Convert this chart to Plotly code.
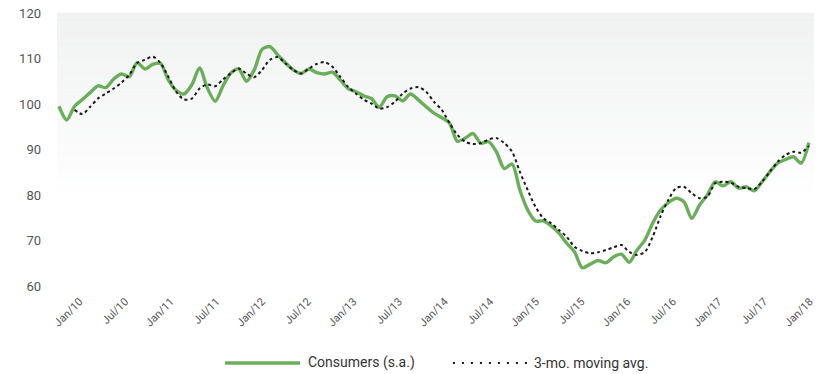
import plotly.graph_objects as go

months = ["Jan/10","Feb/10","Mar/10","Apr/10","May/10","Jun/10","Jul/10","Aug/10","Sep/10","Oct/10","Nov/10","Dec/10",
          "Jan/11","Feb/11","Mar/11","Apr/11","May/11","Jun/11","Jul/11","Aug/11","Sep/11","Oct/11","Nov/11","Dec/11",
          "Jan/12","Feb/12","Mar/12","Apr/12","May/12","Jun/12","Jul/12","Aug/12","Sep/12","Oct/12","Nov/12","Dec/12",
          "Jan/13","Feb/13","Mar/13","Apr/13","May/13","Jun/13","Jul/13","Aug/13","Sep/13","Oct/13","Nov/13","Dec/13",
          "Jan/14","Feb/14","Mar/14","Apr/14","May/14","Jun/14","Jul/14","Aug/14","Sep/14","Oct/14","Nov/14","Dec/14",
          "Jan/15","Feb/15","Mar/15","Apr/15","May/15","Jun/15","Jul/15","Aug/15","Sep/15","Oct/15","Nov/15","Dec/15",
          "Jan/16","Feb/16","Mar/16","Apr/16","May/16","Jun/16","Jul/16","Aug/16","Sep/16","Oct/16","Nov/16","Dec/16",
          "Jan/17","Feb/17","Mar/17","Apr/17","May/17","Jun/17","Jul/17","Aug/17","Sep/17","Oct/17","Nov/17","Dec/17",
          "Jan/18"]

consumers = [99.5, 96.5, 99.5, 101.0, 102.5, 104.0, 103.6, 105.5, 106.6, 106.0, 109.1, 107.7,
             108.7, 108.9, 105.3, 103.0, 102.2, 104.2, 107.9, 103.5, 100.6, 104.0, 106.8, 107.7,
             105.0, 107.5, 112.0, 112.6, 110.8, 109.0, 107.5, 106.7, 107.7, 106.9, 106.6, 107.0,
             105.3, 103.4, 102.7, 101.8, 101.2, 99.3, 101.6, 101.8, 100.7, 102.2, 100.9, 99.4,
             98.0, 97.0, 95.8, 91.8, 92.5, 93.5, 91.4, 91.7, 89.5, 85.8, 86.8, 81.1,
             76.7, 74.3, 74.3, 73.2, 71.6, 69.4, 67.5, 64.0, 64.8, 65.6, 65.1, 66.4,
             67.0, 65.2, 67.9, 70.1, 73.8, 76.7, 78.3, 79.3, 78.5, 74.9, 77.8, 80.0,
             82.9, 82.0, 82.9, 81.5, 81.8, 80.9, 82.9, 85.1, 87.0, 87.8, 88.4, 87.0,
             91.5]

moving_avg = [None, None, 98.7, 97.8, 99.4, 101.2, 102.3, 103.4, 104.7, 106.4, 109.0, 109.7,
              110.4, 109.0, 106.0, 102.7, 101.0, 101.2, 103.4, 104.3, 103.9, 105.4, 106.7, 107.8,
              106.7, 105.9, 107.5, 109.7, 110.3, 108.9, 107.5, 106.7, 107.8, 108.8, 109.2, 108.2,
              106.0, 103.8, 102.3, 101.0, 100.1, 99.0, 99.3, 100.5, 102.3, 103.4, 103.7, 102.7,
              100.5, 98.7, 95.8, 93.2, 91.7, 91.2, 91.4, 92.2, 92.5, 91.4, 89.5, 85.1,
              81.1, 77.4, 74.9, 73.8, 72.3, 70.8, 68.6, 67.7, 67.2, 67.4, 67.9, 68.5,
              69.0, 67.5, 66.8, 67.5, 70.8, 75.3, 78.9, 81.5, 81.8, 80.4, 79.3, 79.6,
              82.6, 82.9, 82.7, 81.8, 81.5, 81.3, 82.9, 85.1, 87.3, 88.8, 89.5, 89.3,
              90.8]

tick_labels = months[::6]
y_ticks = [60, 70, 80, 90, 100, 110, 120]

x = list(range(len(months)))
# label anchor positions along the axis (the source's labels drift slightly from the data grid)
tick_pos = [2.63 + 5.843 * k for k in range(len(tick_labels))]

GREEN = "#6aae5c"
DARK = "#1a1a1a"

fig = go.Figure()
fig.add_trace(go.Scatter(
    x=x, y=consumers, mode="lines", name="Consumers (s.a.)",
    line=dict(color=GREEN, width=3.4, shape="spline", smoothing=0.8),
    customdata=months, hovertemplate="%{customdata}: %{y}<extra></extra>",
))
fig.add_trace(go.Scatter(
    x=x, y=moving_avg, mode="lines", name="3-mo. moving avg.",
    line=dict(color=DARK, width=2, dash="dot", shape="spline", smoothing=0.8),
    customdata=months, hovertemplate="%{customdata}: %{y}<extra></extra>",
))

# vertical gradient background (light grey at top fading to white)
shapes = []
n = 40
top_c = (240, 241, 241)
for i in range(n):
    y1 = 1.0 - i * (0.70 / n)
    y0 = 1.0 - (i + 1) * (0.70 / n)
    t = i / (n - 1)
    c = tuple(round(top_c[k] + (255 - top_c[k]) * t) for k in range(3))
    shapes.append(dict(type="rect", xref="paper", yref="paper", x0=0, x1=1, y0=y0, y1=y1,
                       fillcolor="rgb(%d,%d,%d)" % c, line=dict(width=0), layer="below"))

# custom legend (long line samples like the source)
LEG_Y = -0.282
shapes.append(dict(type="line", xref="paper", yref="paper", x0=0.222, x1=0.321, y0=LEG_Y, y1=LEG_Y,
                   line=dict(color=GREEN, width=3.4)))
shapes.append(dict(type="line", xref="paper", yref="paper", x0=0.523, x1=0.622, y0=LEG_Y, y1=LEG_Y,
                   line=dict(color=DARK, width=2.2, dash="2px,7px")))
annotations = [
    dict(xref="paper", yref="paper", x=0.329, y=LEG_Y, xanchor="left", yanchor="middle",
         text=fig.data[0].name, showarrow=False, font=dict(size=14, color="#333333")),
    dict(xref="paper", yref="paper", x=0.6275, y=LEG_Y, xanchor="left", yanchor="middle",
         text=fig.data[1].name, showarrow=False, font=dict(size=14, color="#333333")),
]

fig.update_layout(
    width=829, height=374,
    margin=dict(l=57, r=15, t=13, b=88),
    paper_bgcolor="white", plot_bgcolor="white",
    shapes=shapes, annotations=annotations,
    font=dict(family="Roboto, sans-serif", color="#555555"),
    showlegend=False,
    xaxis=dict(range=[-0.25, 96.65], tickvals=tick_pos, ticktext=tick_labels, tickangle=-45,
               showgrid=False, zeroline=False, showline=False, ticks="", automargin=False,
               ticklabelstandoff=6, tickfont=dict(size=11, color="#555555")),
    yaxis=dict(range=[60, 120], tickvals=y_ticks, showgrid=False, zeroline=False, showline=False,
               ticks="", automargin=False, ticklabelstandoff=15,
               tickfont=dict(size=13, color="#555555")),
)

fig.write_html("out.html")
